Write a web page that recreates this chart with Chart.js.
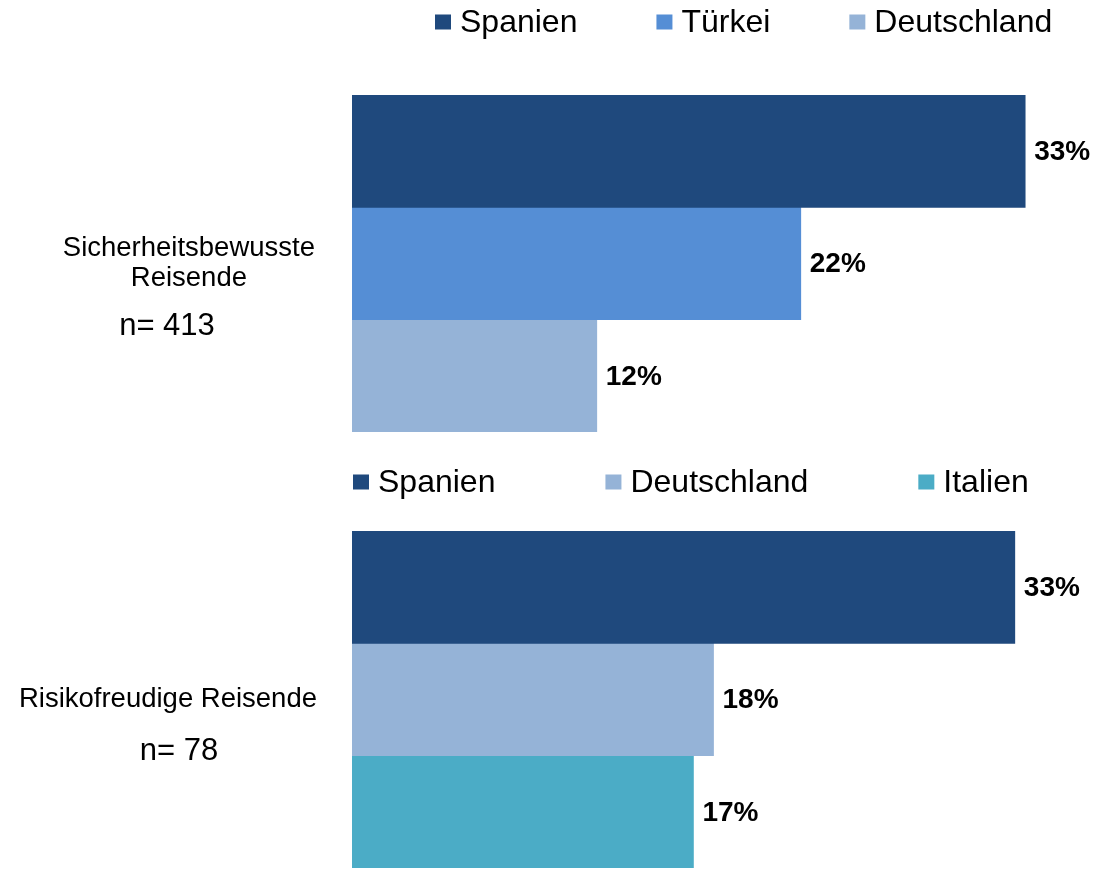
<!DOCTYPE html>
<html>
<head>
<meta charset="utf-8">
<script src="https://cdn.jsdelivr.net/npm/chart.js@4/dist/chart.umd.min.js"></script>
<style>
  body { margin: 0; background: #fff; }
  canvas { display: block; }
</style>
</head>
<body>
<canvas id="topChart" width="1100" height="445"></canvas>
<canvas id="bottomChart" width="1100" height="424"></canvas>
<script>
const groupLabels = [['Sicherheitsbewusste', 'Reisende'], ['Risikofreudige Reisende']];
const sampleSizes = ['n= 413', 'n= 78'];
const topCountries = ['Spanien', 'Türkei', 'Deutschland'];
const topShares = [33, 22, 12];
const bottomCountries = ['Spanien', 'Deutschland', 'Italien'];
const bottomShares = [33, 18, 17];

const countryColors = {
  'Spanien': '#1F497D',
  'Türkei': '#558ED5',
  'Deutschland': '#95B3D7',
  'Italien': '#4BACC6'
};

const FONT = "'Liberation Sans', Arial, sans-serif";

// legend drawn by hand, Excel spacing is not what chart.js does
const boxLegend = {
  id: 'boxLegend',
  afterDraw(chart, args, opts) {
    const ctx = chart.ctx;
    ctx.save();
    ctx.font = `32px ${FONT}`;
    ctx.textBaseline = 'middle';
    ctx.textAlign = 'left';
    let x = opts.x;
    chart.data.datasets.forEach(ds => {
      ctx.fillStyle = ds.backgroundColor;
      ctx.fillRect(x, opts.y - 7.5, 16, 15);
      ctx.fillStyle = '#000';
      ctx.fillText(ds.label, x + 25, opts.y + 1);
      x += 25 + ctx.measureText(ds.label).width + opts.gap;
    });
    ctx.restore();
  }
};

const valueLabels = {
  id: 'valueLabels',
  afterDatasetsDraw(chart) {
    const ctx = chart.ctx;
    ctx.save();
    ctx.font = `bold 28px ${FONT}`;
    ctx.textBaseline = 'middle';
    ctx.fillStyle = '#000';
    chart.data.datasets.forEach((ds, i) => {
      chart.getDatasetMeta(i).data.forEach((bar, j) => {
        ctx.fillText(ds.data[j] + '%', bar.x + 9, bar.y + 1);
      });
    });
    ctx.restore();
  }
};

const sampleLabel = {
  id: 'sampleLabel',
  afterDraw(chart, args, opts) {
    const ctx = chart.ctx;
    const yScale = chart.scales.y;
    ctx.save();
    ctx.font = `31px ${FONT}`;
    ctx.textBaseline = 'middle';
    ctx.textAlign = 'center';
    ctx.fillStyle = '#000';
    ctx.fillText(opts.text, opts.x, yScale.getPixelForValue(0) + opts.dy);
    ctx.restore();
  }
};

function buildChart(canvasId, group, countries, shares, layout) {
  const ctx = document.getElementById(canvasId).getContext('2d');
  return new Chart(ctx, {
    type: 'bar',
    data: {
      labels: [groupLabels[group]],
      datasets: countries.map((c, i) => ({
        label: c,
        data: [shares[i]],
        backgroundColor: countryColors[c],
        borderWidth: 0,
        barPercentage: 1,
        categoryPercentage: 1
      }))
    },
    options: {
      indexAxis: 'y',
      responsive: false,
      animation: false,
      layout: { padding: layout.padding },
      scales: {
        x: { display: false, min: 0, max: 35 },
        y: {
          grid: { display: false, drawTicks: false },
          border: { display: false },
          ticks: {
            crossAlign: 'center',
            padding: layout.tickPadding,
            color: '#000',
            font: { family: FONT, size: 27.5, lineHeight: 1.1 }
          },
          afterFit(scale) {
            scale.width = 352;
            // keep the tall label from eating into the bar area
            scale.paddingTop = 0;
            scale.paddingBottom = 0;
          }
        }
      },
      plugins: {
        legend: { display: false },
        tooltip: { enabled: false },
        boxLegend: layout.legend,
        sampleLabel: { text: sampleSizes[group], x: layout.sampleX, dy: layout.sampleDy }
      }
    },
    plugins: [boxLegend, valueLabels, sampleLabel]
  });
}

buildChart('topChart', 0, topCountries, topShares, {
  padding: { top: 95, bottom: 13, left: 0, right: 34 },
  tickPadding: 37,
  legend: { x: 435, y: 22, gap: 79 },
  sampleX: 167,
  sampleDy: 63
});

buildChart('bottomChart', 1, bottomCountries, bottomShares, {
  padding: { top: 86, bottom: 1, left: 0, right: 45 },
  tickPadding: 35,
  legend: { x: 353, y: 37, gap: 110 },
  sampleX: 179,
  sampleDy: 52
});
</script>
</body>
</html>
